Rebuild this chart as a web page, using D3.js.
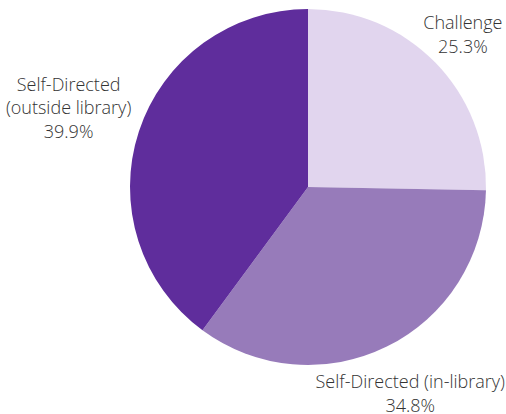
<!DOCTYPE html>
<html><head><meta charset="utf-8">
<script src="https://cdn.jsdelivr.net/npm/d3@7"></script>
<style>body{margin:0;background:#fff}svg{display:block}</style>
</head><body>
<script>
const categories = ["Challenge", "Self-Directed (in-library)", "Self-Directed (outside library)"];
const labelLines = [["Challenge"], ["Self-Directed (in-library)"], ["Self-Directed", "(outside library)"]];
const values = [25.3, 34.8, 39.9];
const colors = ["#e1d5ee", "#977bba", "#5f2d9c"];

const W = 506, H = 414, cx = 308, cy = 187, R = 178;
const labelRadius = [217, 231, 252];
const lineH = 23.5;

const svg = d3.select("body").append("svg").attr("width", W).attr("height", H);
const g = svg.append("g").attr("transform", `translate(${cx},${cy})`);
const pie = d3.pie().sort(null).value(d => d)(values);
const arc = d3.arc().innerRadius(0).outerRadius(R);
g.selectAll("path").data(pie).join("path")
  .attr("d", arc).attr("fill", (d, i) => colors[i]);

pie.forEach((d, i) => {
  const a = (d.startAngle + d.endAngle) / 2;
  const r = labelRadius[i];
  const x = Math.sin(a) * r, y = -Math.cos(a) * r;
  const lines = labelLines[i].concat([d3.format(".1f")(values[i]) + "%"]);
  const n = lines.length;
  const t = g.append("text").attr("x", x).attr("y", y)
    .attr("text-anchor", "middle")
    .style("font-family", "'Open Sans'").style("font-weight", 300)
    .style("font-size", "18px").attr("fill", "#333");
  lines.forEach((s, k) => {
    t.append("tspan").attr("x", x)
      .attr("y", y + (k - (n - 1) / 2) * lineH + 6)
      .text(s);
  });
});
</script>
</body></html>
